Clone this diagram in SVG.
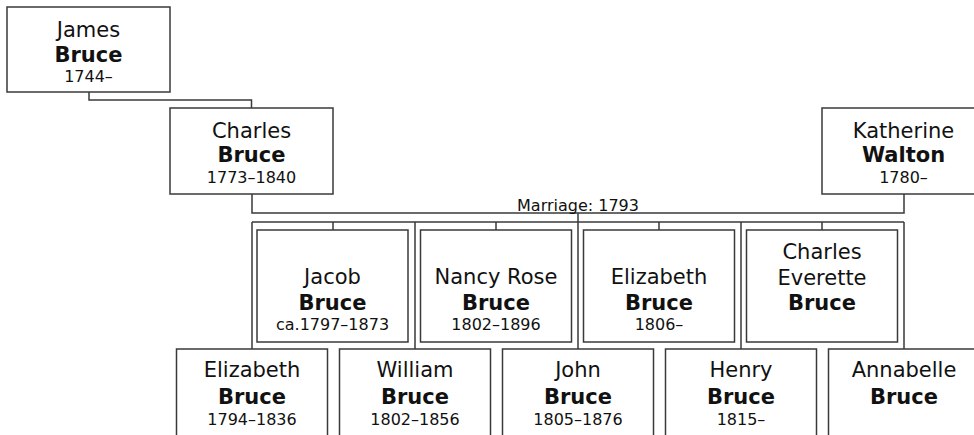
<svg xmlns="http://www.w3.org/2000/svg" width="974" height="435" viewBox="0 0 974 435">
<style>
.box{fill:#fff;stroke:#3a3a3a;stroke-width:1.5}
.ln{fill:none;stroke:#3a3a3a;stroke-width:1.5}
text{font-family:"DejaVu Sans",Verdana,sans-serif;fill:#111;text-anchor:middle}
.g{font-size:21px}
.s{font-size:21px;font-weight:bold}
.d{font-size:16px}
.m{font-size:16px}
</style>
<rect width="974" height="435" fill="#fff"/>
<g id="connectors">
<path class="ln" d="M89,92 V100 H251.5 V108"/>
<path class="ln" d="M252,194 V213 H904 V194"/>
<path class="ln" d="M578,213 V222"/>
<path class="ln" d="M252,222 H904"/>
<path class="ln" d="M333,222 V230 M496,222 V230 M659,222 V230 M822,222 V230"/>
<path class="ln" d="M252,222 V349 M415,222 V349 M578,222 V349 M741,222 V349 M904,222 V349"/>
<text class="m" x="578" y="210.5">Marriage: 1793</text>
</g>
<g id="james">
<rect class="box" x="7" y="7" width="163" height="85"/>
<text class="g" x="88.5" y="36.5">James</text>
<text class="s" x="88.5" y="61.5">Bruce</text>
<text class="d" x="88.5" y="81.5">1744–</text>
</g>
<g id="charles">
<rect class="box" x="170" y="108" width="163" height="86"/>
<text class="g" x="251.5" y="137.5">Charles</text>
<text class="s" x="251.5" y="162">Bruce</text>
<text class="d" x="251.5" y="183">1773–1840</text>
</g>
<g id="katherine">
<rect class="box" x="822" y="108" width="163" height="86"/>
<text class="g" x="903.5" y="137.5">Katherine</text>
<text class="s" x="903.5" y="162">Walton</text>
<text class="d" x="903.5" y="183">1780–</text>
</g>
<g id="jacob">
<rect class="box" x="257" y="230" width="151" height="112"/>
<text class="g" x="332.5" y="284">Jacob</text>
<text class="s" x="332.5" y="310">Bruce</text>
<text class="d" x="332.5" y="329.5">ca.1797–1873</text>
</g>
<g id="nancy">
<rect class="box" x="420.5" y="230" width="151" height="112"/>
<text class="g" x="496" y="284">Nancy Rose</text>
<text class="s" x="496" y="310">Bruce</text>
<text class="d" x="496" y="329.5">1802–1896</text>
</g>
<g id="elizabeth1806">
<rect class="box" x="583.5" y="230" width="151" height="112"/>
<text class="g" x="659" y="284">Elizabeth</text>
<text class="s" x="659" y="310">Bruce</text>
<text class="d" x="659" y="329.5">1806–</text>
</g>
<g id="charlesEverette">
<rect class="box" x="746.5" y="230" width="151" height="112"/>
<text class="g" x="822" y="259">Charles</text>
<text class="g" x="822" y="284.5">Everette</text>
<text class="s" x="822" y="310">Bruce</text>
</g>
<g id="elizabeth1794">
<rect class="box" x="176.5" y="349" width="151" height="100"/>
<text class="g" x="252" y="377">Elizabeth</text>
<text class="s" x="252" y="403.5">Bruce</text>
<text class="d" x="252" y="424.5">1794–1836</text>
</g>
<g id="william">
<rect class="box" x="339.5" y="349" width="151" height="100"/>
<text class="g" x="415" y="377">William</text>
<text class="s" x="415" y="403.5">Bruce</text>
<text class="d" x="415" y="424.5">1802–1856</text>
</g>
<g id="john">
<rect class="box" x="502.5" y="349" width="151" height="100"/>
<text class="g" x="578" y="377">John</text>
<text class="s" x="578" y="403.5">Bruce</text>
<text class="d" x="578" y="424.5">1805–1876</text>
</g>
<g id="henry">
<rect class="box" x="665.5" y="349" width="151" height="100"/>
<text class="g" x="741" y="377">Henry</text>
<text class="s" x="741" y="403.5">Bruce</text>
<text class="d" x="741" y="424.5">1815–</text>
</g>
<g id="annabelle">
<rect class="box" x="828.5" y="349" width="151" height="100"/>
<text class="g" x="904" y="377">Annabelle</text>
<text class="s" x="904" y="403.5">Bruce</text>
</g>
</svg>
